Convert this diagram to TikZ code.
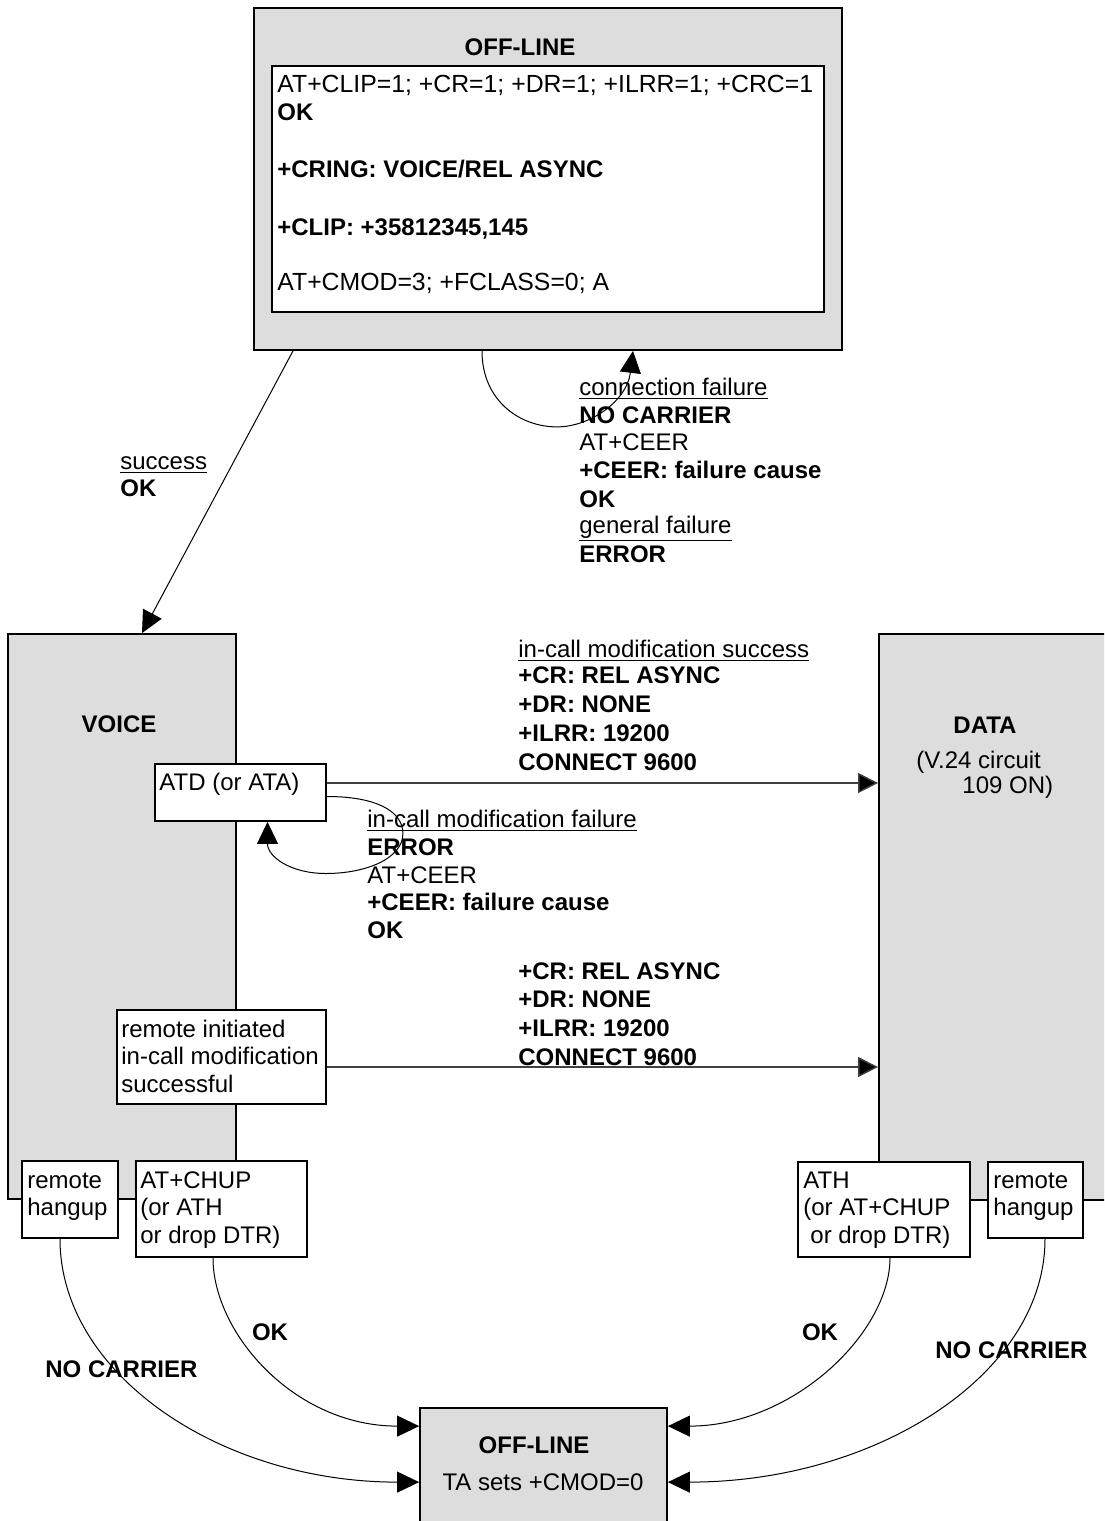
\documentclass[tikz,border=0pt]{standalone}
\usepackage{fontspec}
\setmainfont{Liberation Sans}
\usetikzlibrary{arrows.meta,calc}
\definecolor{stategray}{RGB}{221,221,221}

\begin{document}
\begin{tikzpicture}[x=0.5pt,y=-0.5pt,
  every node/.style={font=\fontsize{12}{14}\selectfont},
  state/.style={draw,line width=0.9pt,fill=stategray,inner sep=0},
  cmdbox/.style={draw,line width=0.9pt,fill=white,inner sep=0},
  txt/.style={anchor=base west,inner sep=0},
  ctxt/.style={anchor=base,inner sep=0},
  big/.style={font=\fontsize{12.4}{14}\selectfont},
  arr/.style={line width=0.5pt,-{Triangle[length=11pt,width=10.5pt]}},
  harr/.style={line width=0.7pt,draw=black!75,-{Triangle[length=10pt,width=10pt,fill=black]}}]
\path[use as bounding box] (0,0) rectangle (1104,1521);
\clip (0,0) rectangle (1104,1521);

% states
\node[state,minimum width=294pt,minimum height=171pt] (offtop) at (548,179) {};
\node[cmdbox,minimum width=276pt,minimum height=123pt] (cmds) at (548,189) {};
\node[state,minimum width=114pt,minimum height=282.5pt] (voice) at (122,916.5) {};
\node[state,minimum width=125.5pt,minimum height=283pt] (data) at (1004.5,917) {};
\node[state,minimum width=123.5pt,minimum height=66pt] (offbot) at (543.5,1474) {};

% command boxes
\node[cmdbox,minimum width=85.5pt,minimum height=28.5pt] (atd) at (240.5,792.5) {};
\node[cmdbox,minimum width=104.5pt,minimum height=47pt] (rinit) at (221.5,1057) {};
\node[cmdbox,minimum width=48pt,minimum height=38.5pt] (lhang) at (70,1199.5) {};
\node[cmdbox,minimum width=85.5pt,minimum height=48pt] (chup) at (221.5,1209) {};
\node[cmdbox,minimum width=86pt,minimum height=47.5pt] (ath) at (884,1209.5) {};
\node[cmdbox,minimum width=47.5pt,minimum height=38pt] (rhang) at (1035.5,1200) {};

% top off-line state
\node[ctxt] (offtopname) at (520,55) {\textbf{OFF-LINE}};
\node[txt,big] (c1) at (277,92) {AT+CLIP=1; +CR=1; +DR=1; +ILRR=1; +CRC=1};
\node[txt] (c2) at (277,120) {\textbf{OK}};
\node[txt] (c3) at (277,177) {\textbf{+CRING: VOICE/REL ASYNC}};
\node[txt] (c4) at (277,235) {\textbf{+CLIP: +35812345,145}};
\node[txt,big] (c5) at (277,290) {AT+CMOD=3; +FCLASS=0; A};

\node[txt] (f1) at (579,395) {\underline{connection failure}};
\node[txt] (f2) at (579,423) {\textbf{NO CARRIER}};
\node[txt] (f3) at (579,450) {AT+CEER};
\node[txt] (f4) at (579,478) {\textbf{+CEER: failure cause}};
\node[txt] (f5) at (579,507) {\textbf{OK}};
\node[txt] (f6) at (579,533) {\underline{general failure}};
\node[txt] (f7) at (579,562) {\textbf{ERROR}};

\node[txt] (s1) at (120,469) {\underline{success}};
\node[txt] (s2) at (120,496) {\textbf{OK}};

% voice and data
\node[ctxt] (voicename) at (119,732) {\textbf{VOICE}};
\node[ctxt] (dataname) at (985,733) {\textbf{DATA}};
\node[txt] (d1) at (916,768) {(V.24 circuit};
\node[txt] (d2) at (962,793) {109 ON)};

\node[txt] (atdtext) at (159,790) {ATD (or ATA)};
\node[txt] (m1) at (518,657) {\underline{in-call modification success}};
\node[txt] (m2) at (518,683) {\textbf{+CR: REL ASYNC}};
\node[txt] (m3) at (518,712) {\textbf{+DR: NONE}};
\node[txt] (m4) at (518,741) {\textbf{+ILRR: 19200}};
\node[txt] (m5) at (518,770) {\textbf{CONNECT 9600}};

\node[txt] (e1) at (367,827) {\underline{in-call modification failure}};
\node[txt] (e2) at (367,855) {\textbf{ERROR}};
\node[txt] (e3) at (367,883) {AT+CEER};
\node[txt] (e4) at (367,910) {\textbf{+CEER: failure cause}};
\node[txt] (e5) at (367,938) {\textbf{OK}};

\node[txt] (r1) at (121,1037) {remote initiated};
\node[txt] (r2) at (121,1064) {in-call modification};
\node[txt] (r3) at (121,1092) {successful};
\node[txt] (n1) at (518,979) {\textbf{+CR: REL ASYNC}};
\node[txt] (n2) at (518,1007) {\textbf{+DR: NONE}};
\node[txt] (n3) at (518,1036) {\textbf{+ILRR: 19200}};
\node[txt] (n4) at (518,1065) {\textbf{CONNECT 9600}};

% hangups
\node[txt] (h1) at (27,1188) {remote};
\node[txt] (h2) at (27,1215) {hangup};
\node[txt] (u1) at (140,1188) {AT+CHUP};
\node[txt] (u2) at (140,1215) {(or ATH};
\node[txt] (u3) at (140,1243) {or drop DTR)};
\node[txt] (t1) at (803,1188) {ATH};
\node[txt] (t2) at (803,1215) {(or AT+CHUP};
\node[txt] (t3) at (810,1243) {or drop DTR)};
\node[txt] (k1) at (993,1188) {remote};
\node[txt] (k2) at (993,1215) {hangup};

\node[ctxt] (okl) at (270,1340) {\textbf{OK}};
\node[txt] (ncl) at (45,1377) {\textbf{NO CARRIER}};
\node[ctxt] (okr) at (820,1340) {\textbf{OK}};
\node[txt] (ncr) at (935,1358) {\textbf{NO CARRIER}};

% bottom off-line state
\node[ctxt] (offbotname) at (534,1453) {\textbf{OFF-LINE}};
\node[ctxt] (offbottext) at (543,1490) {TA sets +CMOD=0};

% connectors
\draw[arr] ($(offtop.south)+(-255,0)$) -- ($(voice.north)+(20,0)$);
\draw[arr] ($(offtop.south)+(-66,0)$) .. controls +(0,50) and +(-37,0) .. ++(75,76)
  .. controls +(33,0) and +(-6,50) .. ($(offtop.south)+(85,0)$);
\draw[arr] ($(atd.east)+(0,4)$) .. controls +(50,0) and +(0,-22) .. ++(76,37)
  .. controls +(0,25) and +(40,0) .. ++(-77,40)
  .. controls +(-35,0) and +(0,35) .. ($(atd.south)+(27,0)$);

\coordinate (a1) at ($(atd.east)+(0,-9.5)$);
\coordinate (a2) at ($(rinit.east)+(0,10)$);
\draw[harr] (a1) -- (a1 -| data.west);
\draw[harr] (a2) -- (a2 -| data.west);

\coordinate (in1) at ($(offbot.north west)+(0,19)$);
\coordinate (in2) at ($(offbot.north west)+(0,75)$);
\coordinate (in3) at ($(offbot.north east)+(0,19)$);
\coordinate (in4) at ($(offbot.north east)+(0,75)$);
\draw[arr] ($(lhang.south)+(-10,0)$) .. controls +(0,135) and +(-199,0) .. (in2);
\draw[arr] ($(chup.south)+(-8.5,0)$) .. controls +(0,75) and +(-125,0) .. (in1);
\draw[arr] ($(ath.south)+(6,0)$) .. controls +(0,75) and +(125,0) .. (in3);
\draw[arr] ($(rhang.south)+(9.5,0)$) .. controls +(0,135) and +(209,0) .. (in4);
\end{tikzpicture}
\end{document}
